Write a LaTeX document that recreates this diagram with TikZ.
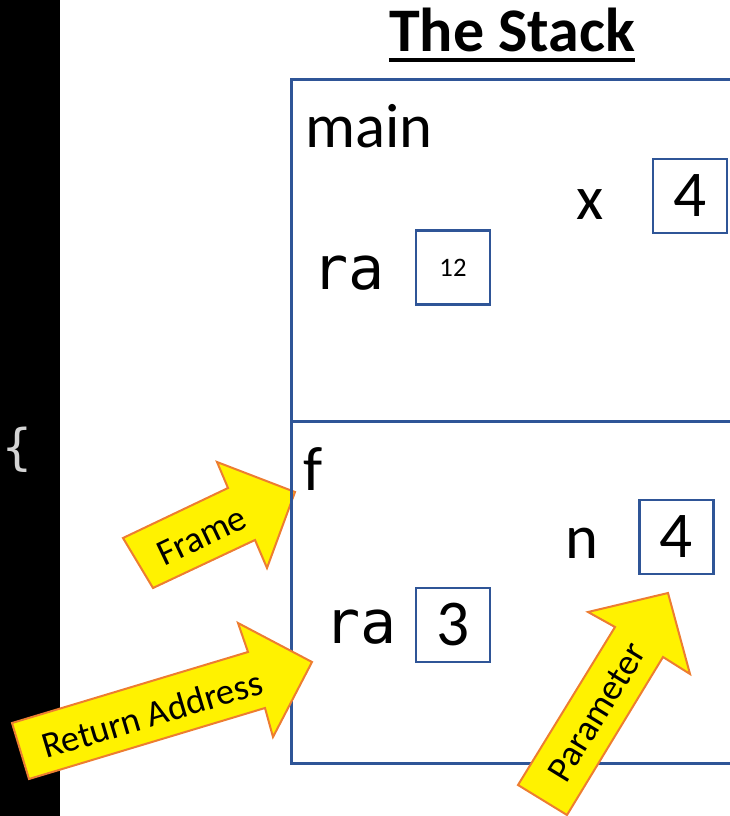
\documentclass[tikz,border=0pt]{standalone}
\usepackage{fontspec}
\setmainfont{Carlito}
\newfontfamily\codefont{DejaVu Sans Mono}
\definecolor{stackblue}{RGB}{47,85,151}
\definecolor{calloutorange}{RGB}{237,125,49}
\definecolor{bracegray}{RGB}{212,212,212}
\begin{document}
\begin{tikzpicture}[x=0.75pt,y=-0.75pt,
  framebox/.style={draw=stackblue, line width=1.9pt, rectangle, anchor=north west,
    minimum width=352.5pt, minimum height=256.5pt, inner sep=0},
  valbox/.style={draw=stackblue, line width=1.6pt, rectangle, inner sep=0,
    minimum width=55.5pt, minimum height=55.5pt, font=\fontsize{49}{52}\selectfont},
  varlabel/.style={anchor=base west, inner sep=0, font=\fontsize{47}{50}\selectfont},
  codelabel/.style={anchor=base west, inner sep=0, font=\codefont\fontsize{45}{50}\selectfont},
  callout/.style={fill=yellow, draw=calloutorange, line width=1.5pt, line join=miter},
  calloutlabel/.style={inner sep=0, font=\fontsize{27.5}{30}\selectfont}]
\useasboundingbox (0,0) rectangle (730,816);
\clip (0,0) rectangle (730,816);

% dark editor strip with a brace
\fill[black] (0,0) rectangle (60,816);
\node[text=bracegray, inner sep=0, font=\codefont\fontsize{37}{40}\selectfont] (brace) at (17,450) {\{};

% title
\node[anchor=base, inner sep=0, font=\bfseries\fontsize{46.5}{50}\selectfont] (title) at (512,52) {The Stack};
\draw[line width=3pt] ([yshift=-6pt]title.base west) -- ([yshift=-6pt]title.base east);

% "Frame" callout sits under the stack outline
\draw[callout] (123,538) -- (228,488) -- (217,462) -- (295,492) -- (267,568) -- (255,540) -- (153,588) -- cycle;
\node[calloutlabel, rotate=25.5] (framelbl) at (202,536) {Frame};

% stack frames
\node[framebox] (mainframe) at (290,78) {};
\node[framebox] (fframe) at (290,420) {};

% main frame contents
\node[varlabel] (mainlbl) at (305,148) {main};
\node[varlabel] (xlbl) at (576,220) {x};
\node[valbox] (xval) at (690,196) {4};
\node[codelabel] (ra1) at (312,290) {ra};
\node[valbox, font=\fontsize{20}{24}\selectfont] (raval1) at (453,267.5) {12};

% f frame contents
\node[varlabel] (flbl) at (303,490) {f};
\node[varlabel] (nlbl) at (565,558) {n};
\node[valbox] (nval) at (676.5,537) {4};
\node[codelabel] (ra2) at (324,643) {ra};
\node[valbox] (raval2) at (453,625) {3};

% callouts drawn over the outline
\draw[callout] (12,723) -- (248,652) -- (238,623) -- (312,662) -- (273,737) -- (265,708) -- (29,779) -- cycle;
\node[calloutlabel, rotate=16.7] (retlbl) at (152,714) {Return Address};

\draw[callout] (518,785) -- (615,627) -- (588,612) -- (668,593) -- (690,674) -- (663,657) -- (567,815) -- cycle;
\node[calloutlabel, rotate=58.5] (paramlbl) at (597,712) {Parameter};
\end{tikzpicture}
\end{document}
